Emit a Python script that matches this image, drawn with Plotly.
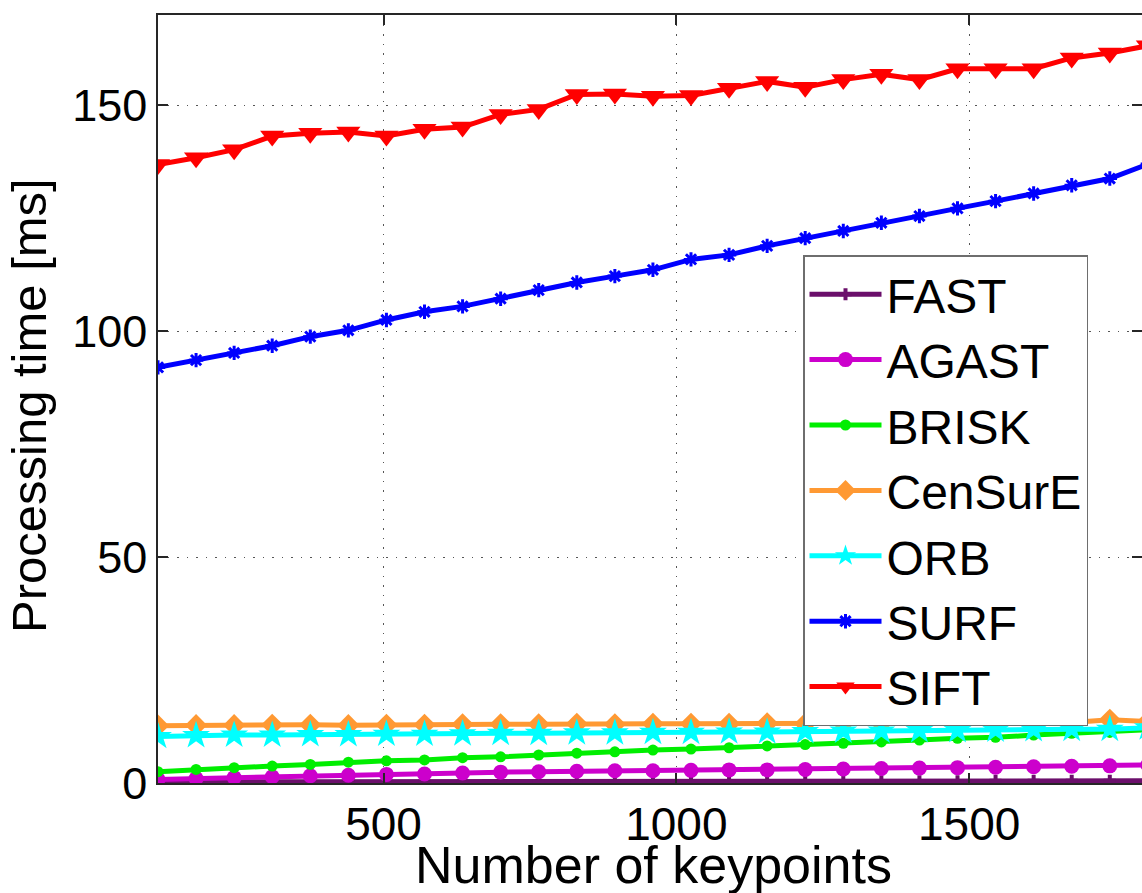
import plotly.graph_objects as go

keypoints = [115, 180, 245, 310, 375, 440, 505, 570, 635, 700, 765, 830, 895, 960,
             1025, 1090, 1155, 1220, 1285, 1350, 1415, 1480, 1545, 1610, 1675, 1740, 1805]

fast = [0.2, 0.3, 0.3, 0.3, 0.3, 0.3, 0.3, 0.3, 0.3, 0.3, 0.3, 0.4, 0.4, 0.4,
        0.4, 0.4, 0.4, 0.4, 0.4, 0.4, 0.4, 0.4, 0.5, 0.5, 0.5, 0.5, 0.5]
agast = [0.8, 1.0, 1.2, 1.4, 1.6, 1.7, 1.9, 2.0, 2.2, 2.4, 2.5, 2.6, 2.7, 2.7,
         2.8, 2.9, 2.9, 3.0, 3.1, 3.2, 3.3, 3.4, 3.5, 3.6, 3.7, 3.8, 4.0]
brisk = [2.5, 3.0, 3.4, 3.75, 4.1, 4.6, 4.9, 5.1, 5.6, 5.8, 6.2, 6.6, 6.9, 7.3,
         7.5, 7.8, 8.2, 8.5, 8.8, 9.1, 9.5, 9.9, 10.1, 10.6, 11.0, 11.2, 11.8]
censure = [12.7, 12.8, 12.8, 12.9, 12.9, 12.8, 12.9, 12.9, 13.0, 13.0, 13.0, 13.1, 13.0, 13.1,
           13.1, 13.1, 13.2, 13.1, 13.2, 13.2, 13.3, 13.3, 13.3, 13.4, 13.4, 14.0, 13.6]
orb = [10.3, 10.5, 10.6, 10.6, 10.7, 10.7, 10.8, 10.8, 10.9, 11.0, 11.0, 11.1, 11.1, 11.2,
       11.2, 11.3, 11.3, 11.4, 11.5, 11.5, 11.6, 11.6, 11.7, 11.8, 11.9, 11.9, 12.2]
surf = [92.0, 93.6, 95.2, 96.8, 98.8, 100.2, 102.5, 104.3, 105.5, 107.2, 109.1, 110.8, 112.2, 113.6,
        115.9, 116.9, 118.9, 120.6, 122.2, 124.0, 125.5, 127.2, 128.8, 130.5, 132.3, 133.8, 137.0]
sift = [136.9, 138.4, 140.2, 143.2, 143.8, 144.1, 143.2, 144.7, 145.2, 148.0, 149.1, 152.4, 152.5, 152.0,
        152.2, 153.8, 155.3, 154.0, 155.7, 156.9, 155.7, 158.1, 158.1, 158.1, 160.5, 161.6, 163.2]

y_ticks = [0, 50, 100, 150]
x_ticks = [500, 1000, 1500]

series = [
    ("FAST", fast, "#6b0f6b", "cross", 10),
    ("AGAST", agast, "#cc00cc", "circle", 15),
    ("BRISK", brisk, "#00ee00", "circle", 11),
    ("CenSurE", censure, "#ff9933", "diamond", 17),
    ("ORB", orb, "#00ffff", "star", 21),
    ("SURF", surf, "#0000ff", "asterisk-open", 12),
    ("SIFT", sift, "#ff0000", "triangle-down", 21),
]

FONT = "Liberation Sans, Arial, sans-serif"

fig = go.Figure()
for i, (name, vals, col, sym, sz) in enumerate(series):
    mk = dict(symbol=sym, size=sz, color=col)
    if sym.endswith("open"):
        mk["line"] = dict(color=col, width=3)
    fig.add_trace(go.Scatter(
        x=keypoints, y=vals, name=name, mode="lines+markers",
        line=dict(color=col, width=5), marker=mk,
        legendgroup=name,
    ))

fig.update_layout(
    width=1142, height=893,
    margin=dict(l=158, r=0, t=15, b=110, autoexpand=False),
    paper_bgcolor="white", plot_bgcolor="white",
    font=dict(family=FONT, size=46, color="black"),
    showlegend=True,
    legend=dict(
        x=(803 - 158) / 984, y=(783 - 255) / 768, xanchor="left", yanchor="top",
        bordercolor="#6e6e6e", borderwidth=1.5, bgcolor="white",
        font=dict(family=FONT, size=48, color="black"),
        itemwidth=72, tracegroupgap=0,
    ),
    xaxis=dict(
        range=[115, 1795], tickvals=x_ticks, ticktext=[str(v) for v in x_ticks],
        showline=True, linecolor="#262626", linewidth=1.5, mirror="ticks",
        ticks="inside", ticklen=10, tickcolor="#262626", tickwidth=1.5,
        showgrid=True, gridcolor="#555555", gridwidth=1.2, griddash="1.5px,8px",
        zeroline=False, tickfont=dict(size=46), automargin=False,
    ),
    yaxis=dict(
        range=[0, 170], tickvals=y_ticks, ticktext=[str(v) for v in y_ticks],
        showline=True, linecolor="#262626", linewidth=1.5, mirror="ticks",
        ticks="inside", ticklen=10, tickcolor="#262626", tickwidth=1.5,
        showgrid=True, gridcolor="#555555", gridwidth=1.2, griddash="1.5px,8px",
        zeroline=False, tickfont=dict(size=45), automargin=False,
    ),
    annotations=[
        dict(text="Number of keypoints", xref="paper", yref="paper",
             x=(653 - 158) / 984, y=-(834 - 783) / 768, xanchor="center", yanchor="top",
             showarrow=False, font=dict(family=FONT, size=52, color="black")),
        dict(text="Processing time [ms]", xref="paper", yref="paper",
             x=-(158 - 0) / 984, y=(783 - 406) / 768, xanchor="left", yanchor="middle",
             textangle=-90, showarrow=False, font=dict(family=FONT, size=49, color="black")),
    ],
)

fig.write_html("out.html", config={"displayModeBar": False},
               post_script="document.body.style.margin='0';document.body.style.overflow='hidden';")
